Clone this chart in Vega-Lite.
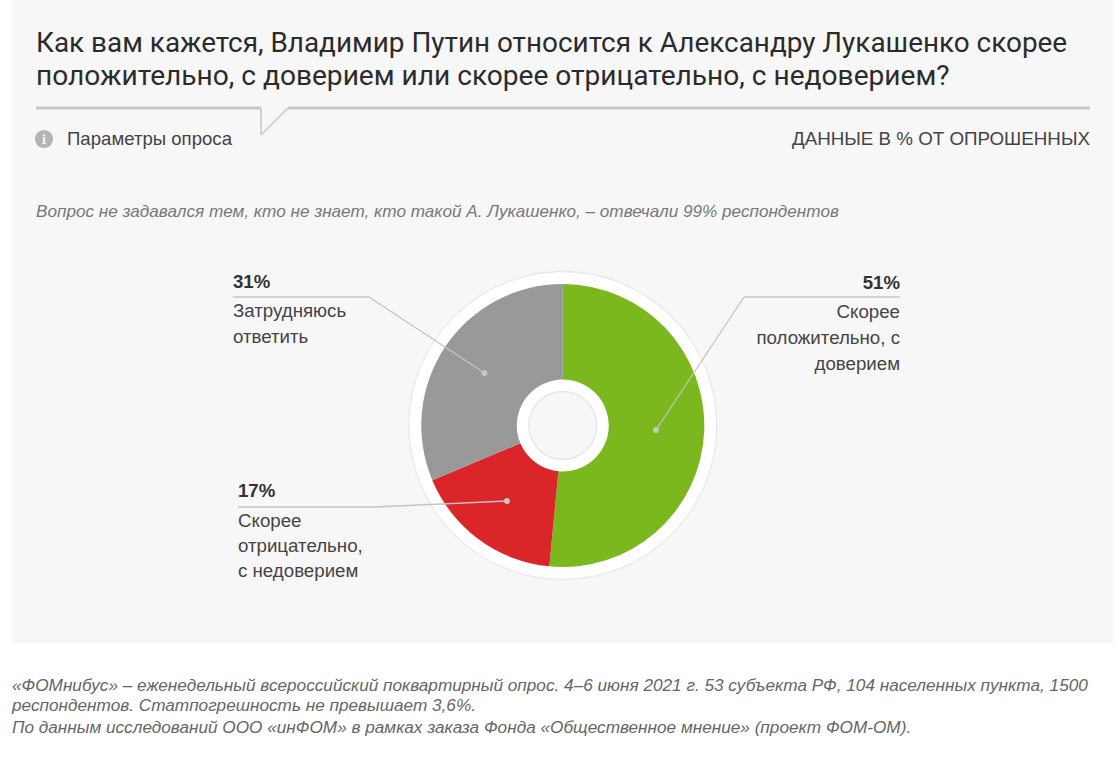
{"$schema":"https://vega.github.io/schema/vega-lite/v6.json","width":1119,"height":759,"padding":0,"autosize":{"type":"fit","contains":"padding"},"background":"#ffffff","view":{"stroke":null},
"datasets":{"answers":[{"answer":"Скорее положительно, с доверием","share":51,"rank":1,"label":"Скорее\nположительно, с\nдоверием","pct":"51%"},{"answer":"Скорее отрицательно, с недоверием","share":17,"rank":2,"label":"Скорее\nотрицательно,\nс недоверием","pct":"17%"},{"answer":"Затрудняюсь ответить","share":31,"rank":3,"label":"Затрудняюсь\nответить","pct":"31%"}],
"one":[{"k":1}]},
"data":{"name":"answers"},
"layer":[
{"data":{"name":"one"},"mark":{"type":"rect","fill":"#f7f7f7"},"encoding":{"x":{"value":12},"x2":{"value":1113},"y":{"value":0},"y2":{"value":643}}},
{"data":{"values":[{"t":"Как вам кажется, Владимир Путин относится к Александру Лукашенко скорее"}]},"mark":{"type":"text","align":"left","baseline":"alphabetic","font":"Roboto","fontSize":27.9,"fill":"#2b2b2b"},"encoding":{"x":{"value":36},"y":{"value":52},"text":{"field":"t"}}},
{"data":{"values":[{"t":"положительно, с доверием или скорее отрицательно, с недоверием?"}]},"mark":{"type":"text","align":"left","baseline":"alphabetic","font":"Roboto","fontSize":28.1,"fill":"#2b2b2b"},"encoding":{"x":{"value":36},"y":{"value":85},"text":{"field":"t"}}},
{"data":{"name":"one"},"mark":{"type":"rule","stroke":"#c8c8c8","strokeWidth":3},"encoding":{"x":{"value":36},"x2":{"value":261},"y":{"value":108},"y2":{"value":108}}},
{"data":{"name":"one"},"mark":{"type":"rule","stroke":"#c8c8c8","strokeWidth":3},"encoding":{"x":{"value":288},"x2":{"value":1090},"y":{"value":108},"y2":{"value":108}}},
{"data":{"name":"one"},"mark":{"type":"rule","stroke":"#d2d2d2","strokeWidth":2},"encoding":{"x":{"value":261},"x2":{"value":261},"y":{"value":108},"y2":{"value":135}}},
{"data":{"name":"one"},"mark":{"type":"rule","stroke":"#d2d2d2","strokeWidth":2},"encoding":{"x":{"value":261},"x2":{"value":288},"y":{"value":135},"y2":{"value":108}}},
{"data":{"name":"one"},"mark":{"type":"point","filled":true,"shape":"circle","fill":"#b4b4b4","opacity":1,"size":330},"encoding":{"x":{"value":44},"y":{"value":139}}},
{"data":{"values":[{"t":"i"}]},"mark":{"type":"text","align":"center","baseline":"alphabetic","font":"DejaVu Serif","fontWeight":"bold","fontSize":12,"fill":"#f0f0f0"},"encoding":{"x":{"value":44},"y":{"value":144},"text":{"field":"t"}}},
{"data":{"values":[{"t":"Параметры опроса"}]},"mark":{"type":"text","align":"left","baseline":"alphabetic","font":"Liberation Sans","fontSize":18.6,"fill":"#444444"},"encoding":{"x":{"value":67},"y":{"value":145},"text":{"field":"t"}}},
{"data":{"values":[{"t":"ДАННЫЕ В % ОТ ОПРОШЕННЫХ"}]},"mark":{"type":"text","align":"right","baseline":"alphabetic","font":"Liberation Sans","fontSize":18.75,"fill":"#444444"},"encoding":{"x":{"value":1090},"y":{"value":145},"text":{"field":"t"}}},
{"data":{"values":[{"t":"Вопрос не задавался тем, кто не знает, кто такой А. Лукашенко, – отвечали 99% респондентов"}]},"mark":{"type":"text","align":"left","baseline":"alphabetic","font":"Liberation Sans","fontStyle":"italic","fontSize":17.15,"fill":"#777777"},"encoding":{"x":{"value":36},"y":{"value":217},"text":{"field":"t"}}},
{"data":{"name":"one"},"mark":{"type":"arc","theta":0,"theta2":6.2832,"innerRadius":0,"outerRadius":154,"fill":"#ffffff","stroke":"#e9e9e9","strokeWidth":1.3},"encoding":{"x":{"value":562.8},"y":{"value":425.5}}},
{"mark":{"type":"arc","innerRadius":46,"outerRadius":141.5},"encoding":{"x":{"value":562.8},"y":{"value":425.5},"theta":{"field":"share","type":"quantitative","stack":true},"order":{"field":"rank","type":"ordinal"},"color":{"field":"answer","type":"nominal","legend":null,"scale":{"domain":["Скорее положительно, с доверием","Скорее отрицательно, с недоверием","Затрудняюсь ответить"],"range":["#7ab81e","#da2529","#999999"]}}}},
{"data":{"name":"one"},"mark":{"type":"arc","theta":0,"theta2":6.2832,"innerRadius":0,"outerRadius":34,"fill":"#f7f7f7","stroke":"#e6e6e6","strokeWidth":1.3},"encoding":{"x":{"value":562.8},"y":{"value":425.5}}},

{"transform":[{"filter":"datum.rank==1"}],"mark":{"type":"rule","stroke":"#c4c4c4","strokeWidth":1.3},"encoding":{"x":{"value":656},"x2":{"value":744},"y":{"value":430},"y2":{"value":297}}},
{"transform":[{"filter":"datum.rank==1"}],"mark":{"type":"rule","stroke":"#c4c4c4","strokeWidth":1.3},"encoding":{"x":{"value":744},"x2":{"value":900},"y":{"value":297},"y2":{"value":297}}},
{"transform":[{"filter":"datum.rank==1"}],"mark":{"type":"point","filled":true,"shape":"circle","fill":"#c8c8c8","opacity":1,"size":34},"encoding":{"x":{"value":656},"y":{"value":430}}},
{"transform":[{"filter":"datum.rank==1"}],"mark":{"type":"text","align":"right","baseline":"alphabetic","font":"Liberation Sans","fontWeight":"bold","fontSize":18.6,"fill":"#333333"},"encoding":{"x":{"value":900},"y":{"value":289},"text":{"field":"pct"}}},
{"transform":[{"filter":"datum.rank==1"}],"mark":{"type":"text","align":"right","baseline":"alphabetic","font":"Liberation Sans","fontSize":18.7,"fill":"#444444","lineBreak":"\n","lineHeight":26},"encoding":{"x":{"value":900},"y":{"value":318},"text":{"field":"label"}}},

{"transform":[{"filter":"datum.rank==2"}],"mark":{"type":"rule","stroke":"#c4c4c4","strokeWidth":1.3},"encoding":{"x":{"value":507},"x2":{"value":375},"y":{"value":501},"y2":{"value":507}}},
{"transform":[{"filter":"datum.rank==2"}],"mark":{"type":"rule","stroke":"#c4c4c4","strokeWidth":1.3},"encoding":{"x":{"value":375},"x2":{"value":238},"y":{"value":507},"y2":{"value":507}}},
{"transform":[{"filter":"datum.rank==2"}],"mark":{"type":"point","filled":true,"shape":"circle","fill":"#c8c8c8","opacity":1,"size":34},"encoding":{"x":{"value":507},"y":{"value":501}}},
{"transform":[{"filter":"datum.rank==2"}],"mark":{"type":"text","align":"left","baseline":"alphabetic","font":"Liberation Sans","fontWeight":"bold","fontSize":18.6,"fill":"#333333"},"encoding":{"x":{"value":238},"y":{"value":497},"text":{"field":"pct"}}},
{"transform":[{"filter":"datum.rank==2"}],"mark":{"type":"text","align":"left","baseline":"alphabetic","font":"Liberation Sans","fontSize":18.7,"fill":"#444444","lineBreak":"\n","lineHeight":25},"encoding":{"x":{"value":238},"y":{"value":527},"text":{"field":"label"}}},

{"transform":[{"filter":"datum.rank==3"}],"mark":{"type":"rule","stroke":"#c4c4c4","strokeWidth":1.3},"encoding":{"x":{"value":484.5},"x2":{"value":369},"y":{"value":373},"y2":{"value":297}}},
{"transform":[{"filter":"datum.rank==3"}],"mark":{"type":"rule","stroke":"#c4c4c4","strokeWidth":1.3},"encoding":{"x":{"value":369},"x2":{"value":233},"y":{"value":297},"y2":{"value":297}}},
{"transform":[{"filter":"datum.rank==3"}],"mark":{"type":"point","filled":true,"shape":"circle","fill":"#c8c8c8","opacity":1,"size":34},"encoding":{"x":{"value":484.5},"y":{"value":373}}},
{"transform":[{"filter":"datum.rank==3"}],"mark":{"type":"text","align":"left","baseline":"alphabetic","font":"Liberation Sans","fontWeight":"bold","fontSize":18.6,"fill":"#333333"},"encoding":{"x":{"value":233},"y":{"value":288},"text":{"field":"pct"}}},
{"transform":[{"filter":"datum.rank==3"}],"mark":{"type":"text","align":"left","baseline":"alphabetic","font":"Liberation Sans","fontSize":18.7,"fill":"#444444","lineBreak":"\n","lineHeight":26},"encoding":{"x":{"value":233},"y":{"value":317},"text":{"field":"label"}}},

{"data":{"values":[{"t":"«ФОМнибус» – еженедельный всероссийский поквартирный опрос. 4–6 июня 2021 г. 53 субъекта РФ, 104 населенных пункта, 1500"}]},"mark":{"type":"text","align":"left","baseline":"alphabetic","font":"Liberation Sans","fontStyle":"italic","fontSize":17.2,"fill":"#666666"},"encoding":{"x":{"value":12},"y":{"value":691},"text":{"field":"t"}}},
{"data":{"values":[{"t":"респондентов. Статпогрешность не превышает 3,6%."}]},"mark":{"type":"text","align":"left","baseline":"alphabetic","font":"Liberation Sans","fontStyle":"italic","fontSize":17.2,"fill":"#666666"},"encoding":{"x":{"value":12},"y":{"value":711},"text":{"field":"t"}}},
{"data":{"values":[{"t":"По данным исследований ООО «инФОМ» в рамках заказа Фонда «Общественное мнение» (проект ФОМ-ОМ)."}]},"mark":{"type":"text","align":"left","baseline":"alphabetic","font":"Liberation Sans","fontStyle":"italic","fontSize":17.2,"fill":"#666666"},"encoding":{"x":{"value":12},"y":{"value":733},"text":{"field":"t"}}}
]}
